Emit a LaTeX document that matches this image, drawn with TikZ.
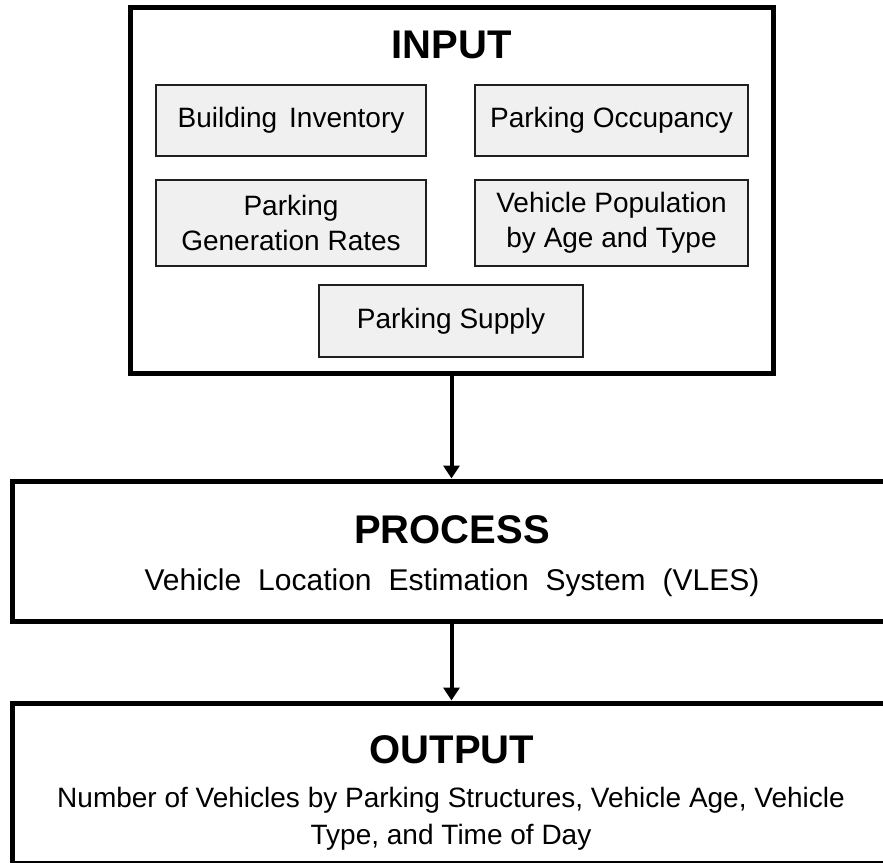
\documentclass[tikz,border=0pt]{standalone}
\usepackage{fontspec}
\setmainfont{Liberation Sans}
\usetikzlibrary{arrows.meta}
\begin{document}
\begin{tikzpicture}[x=1pt,y=-1pt,
  outerbox/.style={draw=black, line width=5pt, rectangle, inner sep=0pt},
  inbox/.style={draw=black!88, fill=black!6, line width=2.5pt, rectangle, inner sep=0pt, align=center, font=\fontsize{28}{35}\selectfont},
  headtext/.style={font=\bfseries\fontsize{40}{48}\selectfont, inner sep=0pt},
  bodytext/.style={font=\fontsize{28}{37}\selectfont, inner sep=0pt, align=center},
  flow/.style={line width=4pt, -{Triangle[length=13pt,width=16pt]}}]
\useasboundingbox (0,0) rectangle (883,862);
\clip (0,0) rectangle (883,862);
% INPUT
\node[outerbox, minimum width=643pt, minimum height=365.5pt] (input) at (451.5,190.25) {};
\node[headtext] (inputtitle) at (451.5,45) {INPUT};
\node[inbox, minimum width=270pt, minimum height=71pt] (bi) at (291,120.5) {Building\hspace{12pt}Inventory};
\node[inbox, minimum width=273pt, minimum height=71pt] (po) at (611.5,120.5) {Parking Occupancy};
\node[inbox, minimum width=270pt, minimum height=86pt] (pg) at (291,223) {Parking\\Generation Rates};
\node[inbox, minimum width=273pt, minimum height=86pt] (vp) at (611.5,223) {Vehicle Population\\by Age and Type};
\node[inbox, minimum width=264pt, minimum height=72pt] (ps) at (451,321) {Parking Supply};
% PROCESS
\node[outerbox, minimum width=890pt, minimum height=140pt] (process) at (457,551) {};
\node[headtext] (processtitle) at (452,530) {PROCESS};
\node[bodytext, font=\fontsize{30}{37}\selectfont] (processtext) at (452,583) {Vehicle\hspace{17pt}Location\hspace{17pt}Estimation\hspace{17pt}System\hspace{17pt}(VLES)};
% OUTPUT
\node[outerbox, minimum width=890pt, minimum height=160pt] (output) at (457,783) {};
\node[headtext] (outputtitle) at (452,750) {OUTPUT};
\node[bodytext] (outputtext) at (451,818.5) {Number of Vehicles by Parking Structures, Vehicle Age, Vehicle\\Type, and Time of Day};
% connectors
\draw[flow] (input.south) -- (input.south |- process.north);
\draw[flow] (process.south -| input.south) -- (input.south |- output.north);
\end{tikzpicture}
\end{document}
